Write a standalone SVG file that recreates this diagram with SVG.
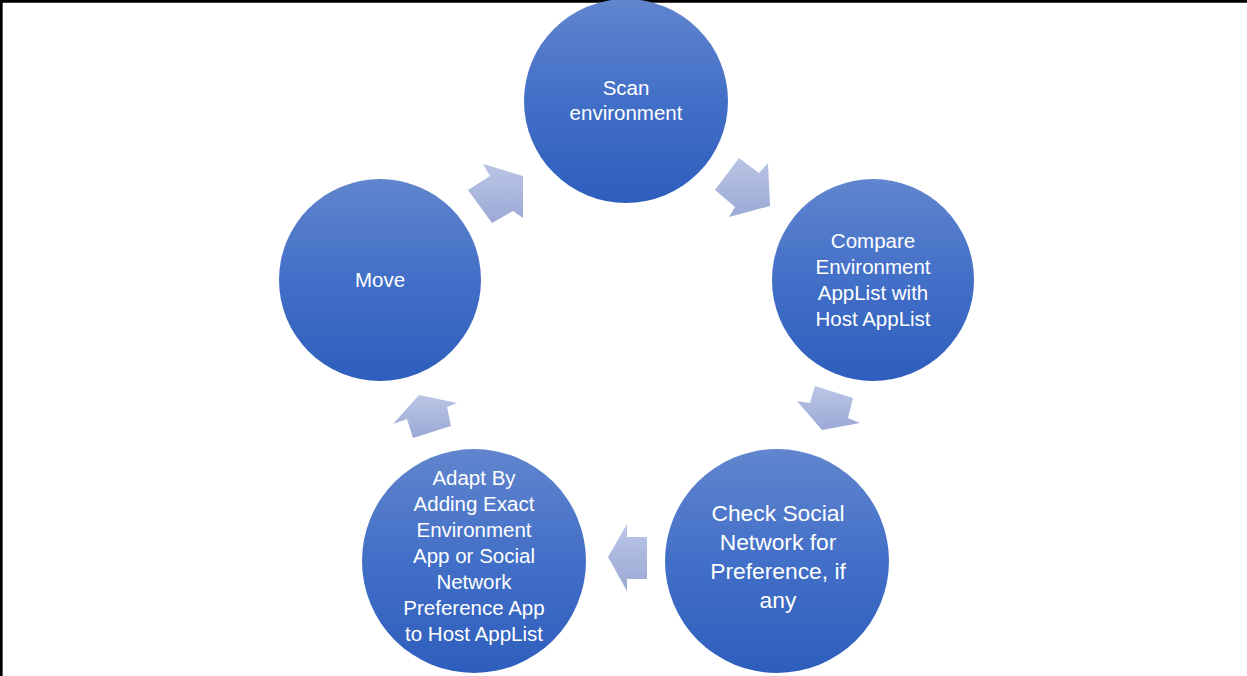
<svg xmlns="http://www.w3.org/2000/svg" width="1247" height="676" viewBox="0 0 1247 676">
  <style>
    .node { fill: url(#cg); }
    .arr { fill: url(#ag); }
    .t { font-family: "Liberation Sans", Arial, sans-serif; fill: #ffffff; text-anchor: middle; font-size: 20.5px; }
    .tb { font-size: 22.8px; }
  </style>
  <defs>
    <linearGradient id="cg" x1="0" y1="0" x2="0" y2="1">
      <stop offset="0" stop-color="#6185ce"/>
      <stop offset="0.5" stop-color="#426fc7"/>
      <stop offset="1" stop-color="#2e5ebd"/>
    </linearGradient>
    <linearGradient id="ag" x1="0" y1="0" x2="0" y2="1">
      <stop offset="0" stop-color="#bac5e5"/>
      <stop offset="1" stop-color="#9ba9d5"/>
    </linearGradient>
  </defs>
  <rect width="1247" height="676" fill="#ffffff"/>
  <path d="M1.3,676 V1.3 H1247" fill="none" stroke="#000000" stroke-width="2.7"/>

  <g id="connectors">
    <polygon class="arr" points="468,190 490,176 483,164 523,176 523,218 513,211 492,223"/>
    <polygon class="arr" points="739,158 759,173 768,163 770,206 729,217 735,207 715,190"/>
    <polygon class="arr" points="815,386 853,398 848,418 860,423 822,430 797,401 810,403"/>
    <polygon class="arr" points="647,537 627,537 627,524 608,557 627,591 627,579 647,579"/>
    <polygon class="arr" points="419,395 457,403 447,407 451,426 413,438 407,419 393,424"/>
  </g>

  <g id="scan">
    <circle class="node" cx="626" cy="101" r="102"/>
    <text class="t"><tspan x="626" y="95">Scan</tspan><tspan x="626" y="120">environment</tspan></text>
  </g>
  <g id="compare">
    <circle class="node" cx="873" cy="280" r="101"/>
    <text class="t"><tspan x="873" y="248">Compare</tspan><tspan x="873" y="274">Environment</tspan><tspan x="873" y="300">AppList with</tspan><tspan x="873" y="326">Host AppList</tspan></text>
  </g>
  <g id="check">
    <circle class="node" cx="777" cy="561" r="112"/>
    <text class="t tb"><tspan x="778" y="521">Check Social</tspan><tspan x="778" y="550">Network for</tspan><tspan x="778" y="579">Preference, if</tspan><tspan x="778" y="608">any</tspan></text>
  </g>
  <g id="adapt">
    <circle class="node" cx="474" cy="561" r="112"/>
    <text class="t"><tspan x="474" y="485">Adapt By</tspan><tspan x="474" y="511">Adding Exact</tspan><tspan x="474" y="537">Environment</tspan><tspan x="474" y="563">App or Social</tspan><tspan x="474" y="589">Network</tspan><tspan x="474" y="615">Preference App</tspan><tspan x="474" y="641">to Host AppList</tspan></text>
  </g>
  <g id="move">
    <circle class="node" cx="380" cy="280" r="101"/>
    <text class="t"><tspan x="380" y="287">Move</tspan></text>
  </g>
</svg>
